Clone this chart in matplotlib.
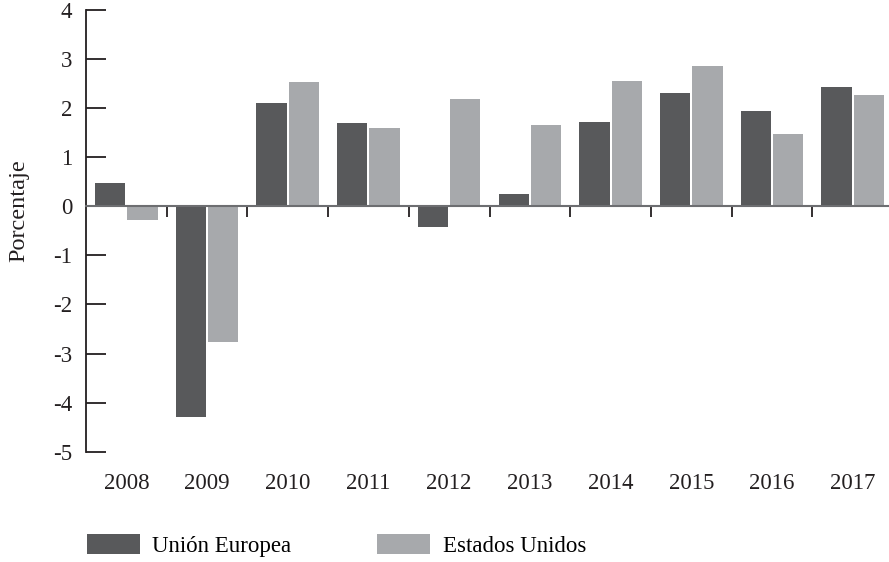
import matplotlib.pyplot as plt
import numpy as np
from matplotlib.patches import Patch

plt.rcParams['font.family'] = ['Liberation Serif', 'DejaVu Serif']
plt.rcParams['axes.unicode_minus'] = False

# Tasa de crecimiento (porcentaje)
years = ['2008', '2009', '2010', '2011', '2012', '2013', '2014', '2015', '2016', '2017']
union_europea = [0.48, -4.30, 2.10, 1.70, -0.43, 0.26, 1.72, 2.31, 1.95, 2.43]
estados_unidos = [-0.28, -2.76, 2.54, 1.60, 2.19, 1.66, 2.55, 2.86, 1.48, 2.27]

eu_color = '#58595b'
us_color = '#a7a9ac'
axis_color = '#231f20'

fig = plt.figure(figsize=(8.89, 5.62), dpi=100)
ax = fig.add_axes([0.0967, 0.1963, 0.9033, 0.7859])

x = np.arange(len(years))
width = 0.375
ax.bar(x - 0.2, union_europea, width, color=eu_color, label='Unión Europea', zorder=2)
ax.bar(x + 0.2, estados_unidos, width, color=us_color, label='Estados Unidos', zorder=2)

ax.set_xlim(-0.5, 9.45)
ax.set_ylim(-5, 4)

# spines: left axis plus a horizontal line at zero
ax.spines['top'].set_visible(False)
ax.spines['right'].set_visible(False)
ax.spines['left'].set_color(axis_color)
ax.spines['left'].set_linewidth(1.3)
ax.spines['bottom'].set_position(('data', 0))
ax.spines['bottom'].set_color('#6d6e71')
ax.spines['bottom'].set_linewidth(1.5)
ax.spines['bottom'].set_zorder(3)

ax.set_yticks(range(-5, 5))
ax.tick_params(axis='y', direction='in', length=14.5, width=1.3, color=axis_color,
               pad=10, labelsize=16.5, labelcolor=axis_color)

# category separators hanging below the zero line
ax.set_xticks(np.arange(0.5, 9, 1))
ax.tick_params(axis='x', direction='out', length=8, width=1.3, color=axis_color,
               labelbottom=False)

# year labels along the bottom of the plot area
sec = ax.secondary_xaxis('bottom')
sec.set_xticks(x, years)
sec.spines['bottom'].set_visible(False)
sec.tick_params(axis='x', length=0, pad=15, labelsize=16.5, labelcolor=axis_color)

ax.set_ylabel('Porcentaje', fontsize=17.5, color=axis_color)
ax.yaxis.set_label_coords(-0.071, 0.545)

handles = [Patch(facecolor=eu_color, label='Unión Europea'),
           Patch(facecolor=us_color, label='Estados Unidos')]
fig.legend(handles=handles, loc='center left', bbox_to_anchor=(0.098, 0.03),
           ncol=2, frameon=False, fontsize=16.5, handlelength=2.3, handleheight=1.0,
           handletextpad=0.55, columnspacing=3.75, borderpad=0, borderaxespad=0)

fig.savefig('out.png', dpi=100)
